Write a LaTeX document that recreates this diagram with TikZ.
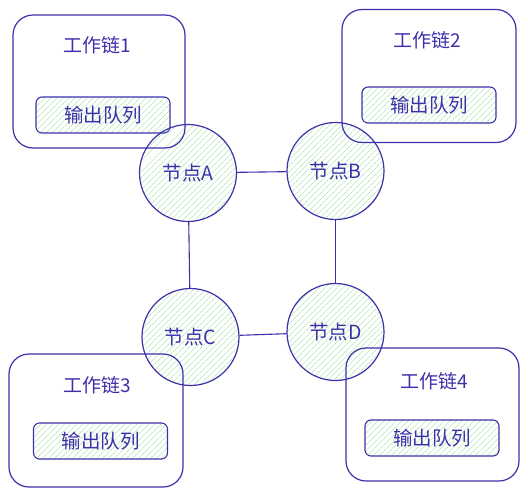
\documentclass[tikz,border=0pt]{standalone}
\usepackage{fontspec}
\setmainfont{Noto Sans CJK SC}
\usetikzlibrary{positioning, patterns.meta}

\definecolor{ink}{RGB}{62,48,170}
\definecolor{hatch}{RGB}{185,232,186}

\tikzset{
    chainbox/.style={draw=ink, line width=1.2pt, rounded corners=20pt, minimum width=#1, minimum height=133pt},
    chainbox/.default=173pt,
    queuebox/.style={draw=ink, line width=1.1pt, rounded corners=6pt, minimum width=134pt, minimum height=36pt,
        pattern={Lines[angle=45, distance=4pt, line width=0.7pt]}, pattern color=hatch, text=ink, font=\fontsize{19.5}{22}\selectfont},
    peer/.style={draw=ink, line width=1.2pt, circle, minimum size=97pt, inner sep=0pt,
        pattern={Lines[angle=45, distance=4pt, line width=0.7pt]}, pattern color=hatch, text=ink, font=\fontsize{19.5}{22}\selectfont},
    title/.style={text=ink, font=\fontsize{19}{22}\selectfont},
    link/.style={draw=ink, line width=1.1pt}
}

\begin{document}
\begin{tikzpicture}[x=1pt, y=-1pt]
    \useasboundingbox (0,0) rectangle (528,496);

    % Nodes
    \node[peer] (nodeA) at (188,173) {节点A};
    \node[peer] (nodeB) at (335.5,171) {节点B};
    \node[peer] (nodeC) at (190.5,337) {节点C};
    \node[peer] (nodeD) at (335.5,332) {节点D};

    \node[chainbox=172pt] (chain1) at (99,81.5) {};
    \node[title] (title1) at (97,45) {工作链1};
    \node[queuebox] (queue1) at (103,115) {输出队列};

    \node[chainbox=174pt] (chain2) at (429,76) {};
    \node[title] (title2) at (427,40) {工作链2};
    \node[queuebox] (queue2) at (429,105) {输出队列};

    \node[chainbox=174pt] (chain3) at (96,420.5) {};
    \node[title] (title3) at (97,385) {工作链3};
    \node[queuebox] (queue3) at (100.5,441) {输出队列};

    \node[chainbox] (chain4) at (432.5,414.5) {};
    \node[title] (title4) at (434,381) {工作链4};
    \node[queuebox] (queue4) at (432,438) {输出队列};

    % Connections
    \draw[link] (nodeA) -- (nodeB);
    \draw[link] (nodeA) -- (nodeC);
    \draw[link] (nodeB) -- (nodeD);
    \draw[link] (nodeC) -- (nodeD);
\end{tikzpicture}
\end{document}
